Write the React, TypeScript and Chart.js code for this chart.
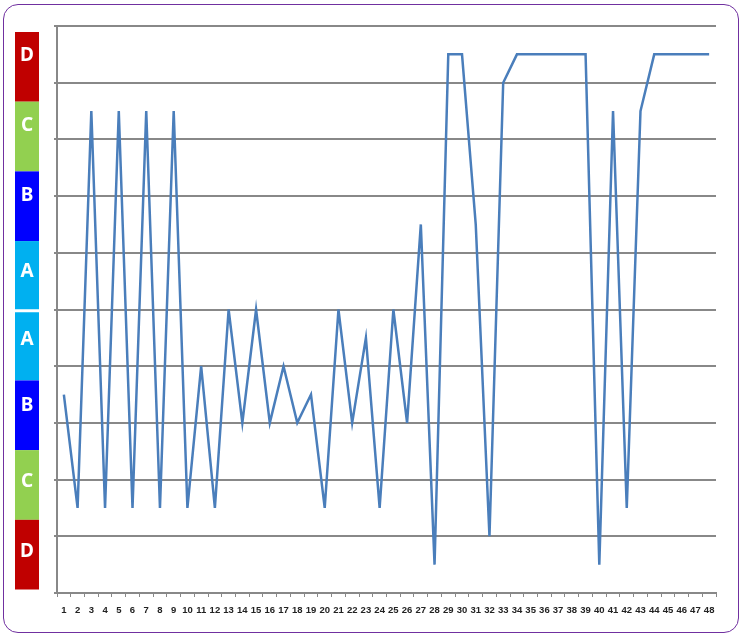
import React, { useEffect, useRef } from "react";
import { Chart, registerables } from "chart.js";

Chart.register(...registerables);

const categories: string[] = Array.from({ length: 48 }, (_, i) => String(i + 1));

const seriesValues: number[] = [
  3.5, 1.5, 8.5, 1.5, 8.5, 1.5, 8.5, 1.5, 8.5, 1.5,
  4, 1.5, 5, 3, 5, 3, 4, 3, 3.5, 1.5,
  5, 3, 4.5, 1.5, 5, 3, 6.5, 0.5, 9.5, 9.5,
  6.5, 1, 9, 9.5, 9.5, 9.5, 9.5, 9.5, 9.5, 0.5,
  8.5, 1.5, 8.5, 9.5, 9.5, 9.5, 9.5, 9.5,
];

const bandLabels: string[] = ["D", "C", "B", "A", "A", "B", "C", "D"];
const bandColors: string[] = [
  "#C00000", "#92D050", "#0000FF", "#00B0F0",
  "#00B0F0", "#0000FF", "#92D050", "#C00000",
];

const bandPlugin = {
  id: "bands",
  afterDraw(chart: any) {
    const ctx = chart.ctx as CanvasRenderingContext2D;
    const x = 15;
    const w = 24;
    const top = 32;
    const bottom = 589.5;
    const h = (bottom - top) / bandLabels.length;
    const letterShift = [-11, -10.7, -10.4, -4, -5.8, -9.5, -3.2, -3];
    ctx.save();
    bandLabels.forEach((lab, i) => {
      const y0 = top + i * h;
      ctx.fillStyle = bandColors[i];
      ctx.fillRect(x, y0, w, h);
    });
    ctx.fillStyle = "#FFFFFF";
    ctx.fillRect(x, top + 4 * h - 1.5, w, 3);
    ctx.font = "bold 19px 'Noto Sans', 'DejaVu Sans', sans-serif";
    ctx.textAlign = "center";
    ctx.textBaseline = "middle";
    bandLabels.forEach((lab, i) => {
      const y0 = top + i * h;
      ctx.fillText(lab, x + w / 2, y0 + h / 2 + letterShift[i]);
    });
    ctx.restore();
  },
};

export default function App() {
  const ref = useRef<HTMLCanvasElement | null>(null);

  useEffect(() => {
    if (!ref.current) return;
    const chart = new Chart(ref.current, {
      type: "line",
      data: {
        labels: categories,
        datasets: [
          {
            data: seriesValues,
            borderColor: "#4A7EBB",
            borderWidth: 2.5,
            pointRadius: 0,
            tension: 0,
            fill: false,
          },
        ],
      },
      options: {
        responsive: false,
        animation: false,
        events: [],
        layout: { padding: { left: 0, top: 26, right: 27, bottom: 0 } },
        plugins: {
          legend: { display: false },
          tooltip: { enabled: false },
        },
        scales: {
          x: {
            type: "category",
            offset: true,
            grid: {
              display: true,
              drawOnChartArea: false,
              offset: true,
              color: "#888888",
              lineWidth: 1,
              tickLength: 4,
            },
            border: { display: true, color: "#888888", width: 2 },
            ticks: {
              autoSkip: false,
              maxRotation: 0,
              minRotation: 0,
              color: "#222222",
              padding: 8,
              font: { size: 9.5, weight: "bold", family: "'Liberation Sans', Arial, sans-serif" },
            },
            afterFit: (scale: any) => {
              scale.height = 46;
            },
          },
          y: {
            min: 0,
            max: 10,
            ticks: { display: false, stepSize: 1 },
            grid: {
              color: "#888888",
              lineWidth: 2,
              tickLength: 3,
            },
            border: { display: true, color: "#888888", width: 2 },
            afterFit: (scale: any) => {
              scale.width = 57;
            },
          },
        },
      },
      plugins: [bandPlugin],
    });
    return () => chart.destroy();
  }, []);

  return (
    <div
      style={{
        position: "fixed",
        left: 0,
        top: 0,
        width: 743,
        height: 639,
        background: "#FFFFFF",
      }}
    >
      <div
        style={{
          position: "absolute",
          left: 3,
          top: 4,
          width: 736,
          height: 629,
          border: "1.5px solid #7030A0",
          borderRadius: 15,
          boxSizing: "border-box",
        }}
      />
      <canvas
        ref={ref}
        width={743}
        height={639}
        style={{ position: "absolute", left: 0, top: 0, width: 743, height: 639 }}
      />
    </div>
  );
}
